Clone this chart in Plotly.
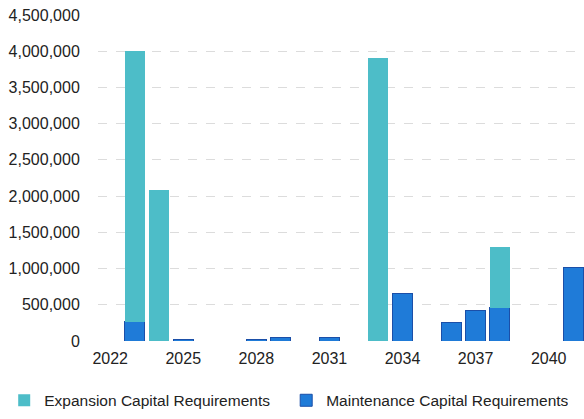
import plotly.graph_objects as go

years = list(range(2022, 2042))
expansion = [0, 3745000, 2080000, 0, 0, 0, 0, 0, 0, 0, 0, 3900000, 0, 0, 0, 0, 840000, 0, 0, 0]
maintenance = [0, 265000, 0, 15000, 0, 0, 25000, 50000, 0, 55000, 0, 0, 660000, 0, 250000, 415000, 460000, 0, 0, 1020000]
x_ticks = [2022, 2025, 2028, 2031, 2034, 2037, 2040]
y_ticks = [0, 500000, 1000000, 1500000, 2000000, 2500000, 3000000, 3500000, 4000000, 4500000]

teal = "#4DBDC8"
blue = "#1F7BD8"

fig = go.Figure()
fig.add_trace(go.Bar(x=years, y=maintenance, name="Maintenance Capital Requirements",
                     marker=dict(color=blue, line=dict(color="#1B4FA8", width=1)), width=0.82))
fig.add_trace(go.Bar(x=years, y=expansion, name="Expansion Capital Requirements",
                     marker=dict(color=teal, line=dict(width=0)), width=0.82))

fig.update_layout(
    barmode="stack",
    width=584, height=419,
    margin=dict(l=98, r=0, t=15, b=78),
    paper_bgcolor="white", plot_bgcolor="white",
    font=dict(family="Liberation Sans, Arial, sans-serif", size=16, color="#222222"),
    showlegend=True,
    legend=dict(orientation="h", traceorder="reversed", x=-0.193, xanchor="left", y=-0.131, yanchor="top",
                font=dict(size=15.5), entrywidth=237, entrywidthmode="pixels",
                itemwidth=30, bgcolor="rgba(0,0,0,0)"),
    bargap=0.18,
)
fig.update_xaxes(range=[2021.5, 2041.45], tickvals=x_ticks, ticktext=[str(v) for v in x_ticks],
                 showgrid=False, zeroline=False, showline=False,
                 ticks="outside", ticklen=3, tickcolor="rgba(0,0,0,0)")
fig.update_yaxes(range=[0, 4500000], tickvals=y_ticks, tickformat=",d",
                 showgrid=True, gridcolor="#DCDCDC", gridwidth=1, griddash="dash",
                 zeroline=False, showline=False,
                 ticks="outside", ticklen=14, tickcolor="rgba(0,0,0,0)")

fig.write_html("out.html")
